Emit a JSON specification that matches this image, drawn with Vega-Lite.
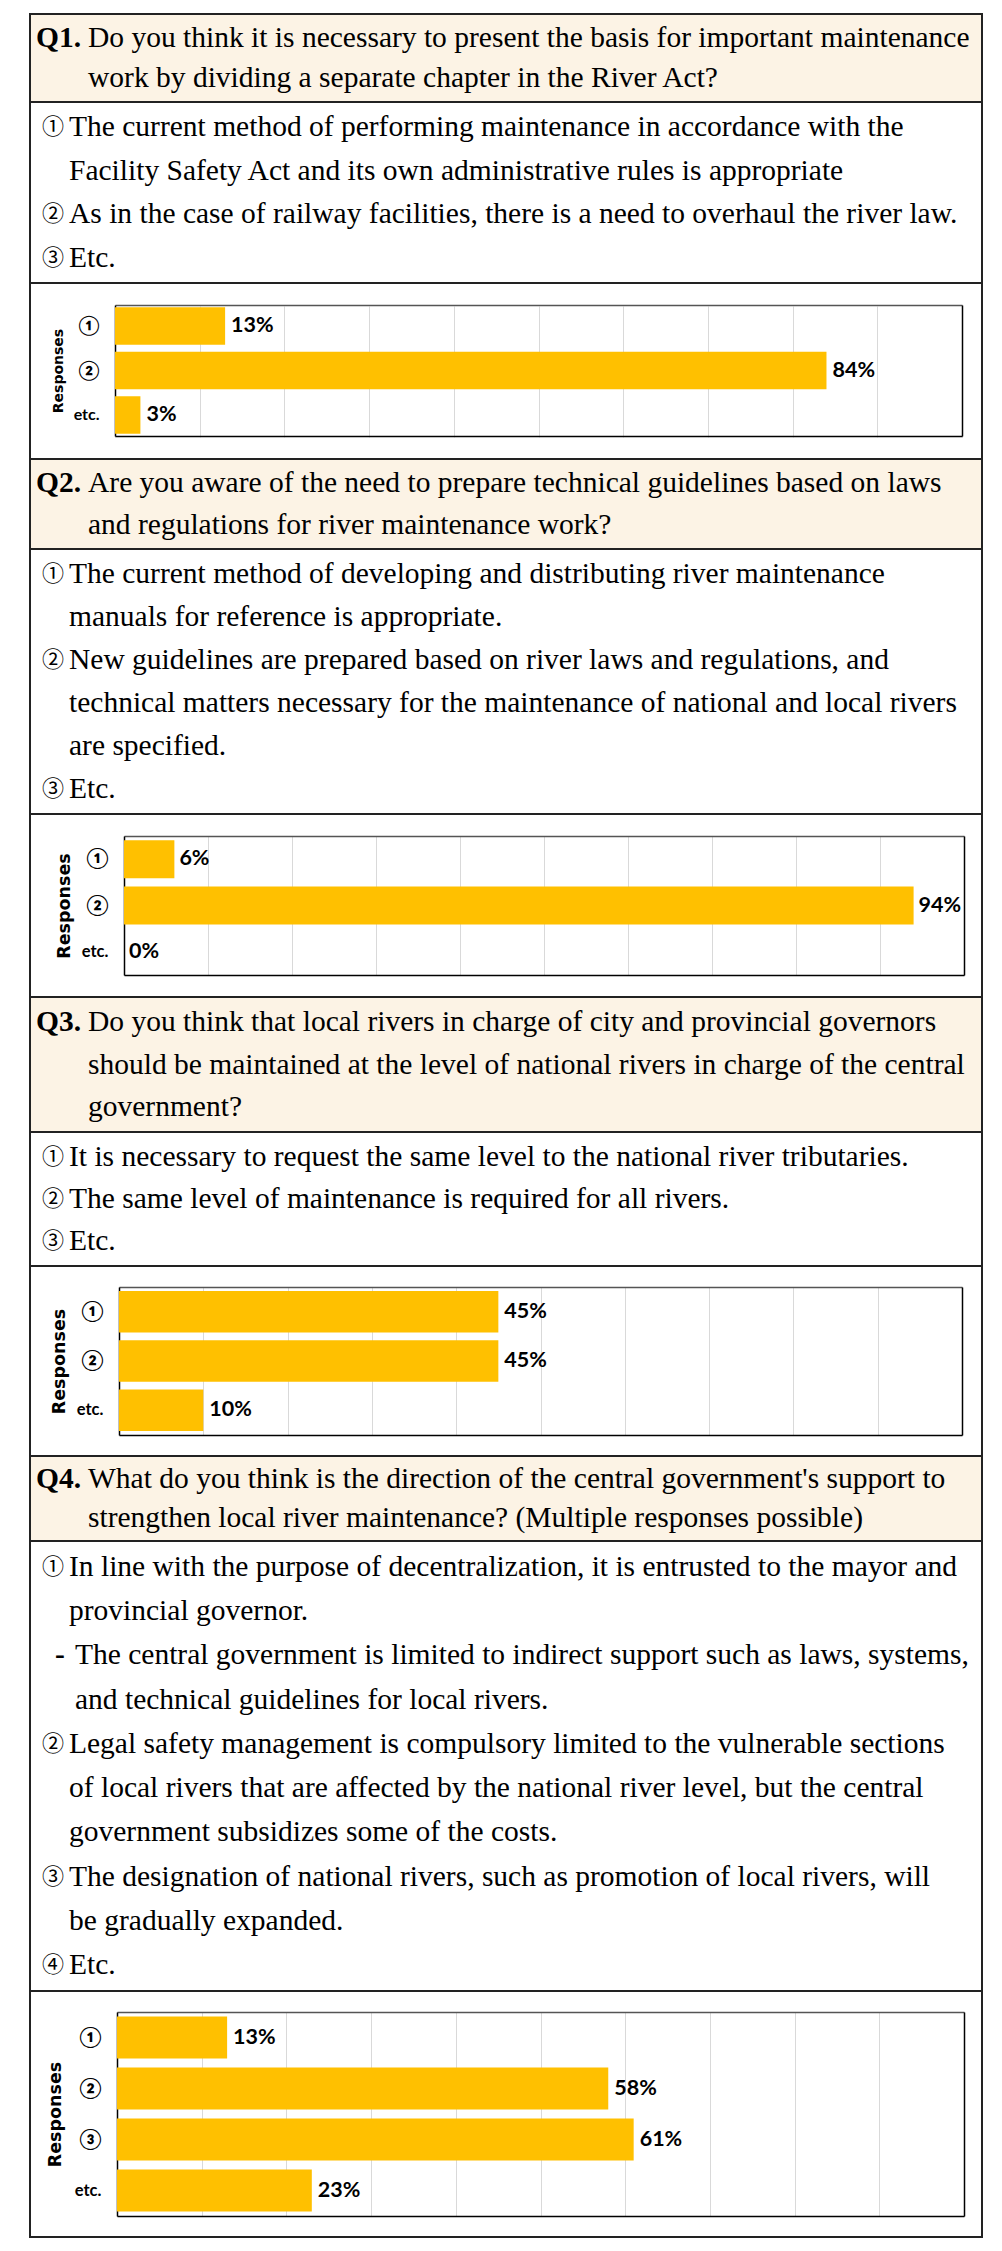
{
 "$schema": "https://vega.github.io/schema/vega-lite/v6.json",
 "padding": {"left": 29, "top": 13, "right": 21, "bottom": 15},
 "background": "#ffffff",
 "spacing": 0,
 "bounds": "flush",
 "config": {
  "view": {"stroke": "#222222", "strokeWidth": 2},
  "text": {"font": "Liberation Serif", "fontSize": 29.5, "align": "left", "baseline": "middle", "color": "#000000"}
 },
 "datasets": {
  "lines": [
   {"s": "Q1h", "l": 1, "m": "Q1.", "t": "Do you think it is necessary to present the basis for important maintenance"},
   {"s": "Q1h", "l": 2, "m": "", "t": "work by dividing a separate chapter in the River Act?"},
   {"s": "Q1o", "l": 1, "m": "①", "t": "The current method of performing maintenance in accordance with the"},
   {"s": "Q1o", "l": 2, "m": "", "t": "Facility Safety Act and its own administrative rules is appropriate"},
   {"s": "Q1o", "l": 3, "m": "②", "t": "As in the case of railway facilities, there is a need to overhaul the river law."},
   {"s": "Q1o", "l": 4, "m": "③", "t": "Etc."},
   {"s": "Q2h", "l": 1, "m": "Q2.", "t": "Are you aware of the need to prepare technical guidelines based on laws"},
   {"s": "Q2h", "l": 2, "m": "", "t": "and regulations for river maintenance work?"},
   {"s": "Q2o", "l": 1, "m": "①", "t": "The current method of developing and distributing river maintenance"},
   {"s": "Q2o", "l": 2, "m": "", "t": "manuals for reference is appropriate."},
   {"s": "Q2o", "l": 3, "m": "②", "t": "New guidelines are prepared based on river laws and regulations, and"},
   {"s": "Q2o", "l": 4, "m": "", "t": "technical matters necessary for the maintenance of national and local rivers"},
   {"s": "Q2o", "l": 5, "m": "", "t": "are specified."},
   {"s": "Q2o", "l": 6, "m": "③", "t": "Etc."},
   {"s": "Q3h", "l": 1, "m": "Q3.", "t": "Do you think that local rivers in charge of city and provincial governors"},
   {"s": "Q3h", "l": 2, "m": "", "t": "should be maintained at the level of national rivers in charge of the central"},
   {"s": "Q3h", "l": 3, "m": "", "t": "government?"},
   {"s": "Q3o", "l": 1, "m": "①", "t": "It is necessary to request the same level to the national river tributaries."},
   {"s": "Q3o", "l": 2, "m": "②", "t": "The same level of maintenance is required for all rivers."},
   {"s": "Q3o", "l": 3, "m": "③", "t": "Etc."},
   {"s": "Q4h", "l": 1, "m": "Q4.", "t": "What do you think is the direction of the central government's support to"},
   {"s": "Q4h", "l": 2, "m": "", "t": "strengthen local river maintenance? (Multiple responses possible)"},
   {"s": "Q4o", "l": 1, "m": "①", "t": "In line with the purpose of decentralization, it is entrusted to the mayor and", "sub": false},
   {"s": "Q4o", "l": 2, "m": "", "t": "provincial governor.", "sub": false},
   {"s": "Q4o", "l": 3, "m": "-", "t": "The central government is limited to indirect support such as laws, systems,", "sub": true},
   {"s": "Q4o", "l": 4, "m": "", "t": "and technical guidelines for local rivers.", "sub": true},
   {"s": "Q4o", "l": 5, "m": "②", "t": "Legal safety management is compulsory limited to the vulnerable sections", "sub": false},
   {"s": "Q4o", "l": 6, "m": "", "t": "of local rivers that are affected by the national river level, but the central", "sub": false},
   {"s": "Q4o", "l": 7, "m": "", "t": "government subsidizes some of the costs.", "sub": false},
   {"s": "Q4o", "l": 8, "m": "③", "t": "The designation of national rivers, such as promotion of local rivers, will", "sub": false},
   {"s": "Q4o", "l": 9, "m": "", "t": "be gradually expanded.", "sub": false},
   {"s": "Q4o", "l": 10, "m": "④", "t": "Etc.", "sub": false}
  ],
  "bars": [
   {"q": "Q1", "r": "①", "v": 0.13},
   {"q": "Q1", "r": "②", "v": 0.84},
   {"q": "Q1", "r": "etc.", "v": 0.03},
   {"q": "Q2", "r": "①", "v": 0.06},
   {"q": "Q2", "r": "②", "v": 0.94},
   {"q": "Q2", "r": "etc.", "v": 0.0},
   {"q": "Q3", "r": "①", "v": 0.45},
   {"q": "Q3", "r": "②", "v": 0.45},
   {"q": "Q3", "r": "etc.", "v": 0.10},
   {"q": "Q4", "r": "①", "v": 0.13},
   {"q": "Q4", "r": "②", "v": 0.58},
   {"q": "Q4", "r": "③", "v": 0.61},
   {"q": "Q4", "r": "etc.", "v": 0.23}
  ]
 },
 "vconcat": [
  {
   "width": 952, "height": 88,
   "view": {"fill": "#fcf3e5"},
   "data": {"name": "lines"},
   "transform": [{"filter": "datum.s == 'Q1h'"}],
   "encoding": {"y": {"field": "l", "type": "ordinal", "axis": null, "scale": {"type": "point", "padding": 0.58}}},
   "layer": [
    {"mark": {"type": "text", "fontWeight": "bold", "x": 6}, "encoding": {"text": {"field": "m"}}},
    {"mark": {"type": "text", "x": 58}, "encoding": {"text": {"field": "t"}}}
   ]
  },
  {
   "width": 952, "height": 181,
   "data": {"name": "lines"},
   "transform": [{"filter": "datum.s == 'Q1o'"}],
   "encoding": {"y": {"field": "l", "type": "ordinal", "axis": null, "scale": {"type": "point", "padding": 0.58}}},
   "layer": [
    {"mark": {"type": "text", "x": 12, "font": "Noto Sans CJK KR", "fontSize": 22}, "encoding": {"text": {"field": "m"}}},
    {"mark": {"type": "text", "x": 39}, "encoding": {"text": {"field": "t"}}}
   ]
  },
  {
   "width": 952, "height": 176,
   "data": {"name": "bars"},
   "transform": [{"filter": "datum.q == 'Q1'"}],
   "resolve": {"axis": {"x": "independent", "y": "independent"}},
   "layer": [
    {
     "mark": {"type": "bar", "color": "#ffc000"},
     "encoding": {
      "y": {"field": "r", "type": "nominal", "sort": null,
       "scale": {"range": [22, 153], "paddingInner": 0.16, "paddingOuter": 0.05},
       "axis": {"orient": "left", "offset": -85, "title": "Responses", "ticks": false, "labelPadding": 16, "labelAngle": 0,
        "labelFont": "Lato, Noto Sans CJK KR", "labelFontSize": {"condition": {"test": "datum.value == 'etc.'", "value": 16}, "value": 19}, "labelFontWeight": "bold", "labelColor": "#000000",
        "titleFont": "DejaVu Sans", "titleFontSize": 14, "titleFontWeight": "bold", "titleColor": "#000000", "titlePadding": 8,
        "domainColor": "#000000", "domainWidth": 1.5}},
      "x": {"field": "v", "type": "quantitative",
       "scale": {"domain": [0, 1], "range": [85, 932], "nice": false},
       "axis": {"orient": "bottom", "offset": -23, "title": null, "labels": false, "ticks": false, "grid": true,
        "gridColor": "#d9d9d9", "gridWidth": 1, "values": [0, 0.1, 0.2, 0.3, 0.4, 0.5, 0.6, 0.7, 0.8, 0.9, 1],
        "domainColor": "#000000", "domainWidth": 1.5}}
     }
    },
    {
     "mark": {"type": "text", "dx": 6, "font": "Lato", "fontWeight": "bold", "fontSize": 21.5},
     "encoding": {
      "y": {"field": "r", "type": "nominal", "sort": null, "axis": null},
      "x": {"field": "v", "type": "quantitative", "axis": null},
      "text": {"field": "v", "type": "quantitative", "format": ".0%"}
     }
    },
    {
     "mark": {"type": "bar", "opacity": 0},
     "encoding": {
      "y": {"field": "r", "type": "nominal", "sort": null,
       "axis": {"orient": "right", "offset": -20, "labels": false, "ticks": false, "title": null, "domainColor": "#000000", "domainWidth": 1.5}},
      "x": {"field": "v", "type": "quantitative",
       "axis": {"orient": "top", "offset": -22, "labels": false, "ticks": false, "title": null, "grid": false, "domainColor": "#555555", "domainWidth": 1.5}}
     }
    }
   ]
  },
  {
   "width": 952, "height": 90,
   "view": {"fill": "#fcf3e5"},
   "data": {"name": "lines"},
   "transform": [{"filter": "datum.s == 'Q2h'"}],
   "encoding": {"y": {"field": "l", "type": "ordinal", "axis": null, "scale": {"type": "point", "padding": 0.58}}},
   "layer": [
    {"mark": {"type": "text", "fontWeight": "bold", "x": 6}, "encoding": {"text": {"field": "m"}}},
    {"mark": {"type": "text", "x": 58}, "encoding": {"text": {"field": "t"}}}
   ]
  },
  {
   "width": 952, "height": 265,
   "data": {"name": "lines"},
   "transform": [{"filter": "datum.s == 'Q2o'"}],
   "encoding": {"y": {"field": "l", "type": "ordinal", "axis": null, "scale": {"type": "point", "padding": 0.58}}},
   "layer": [
    {"mark": {"type": "text", "x": 12, "font": "Noto Sans CJK KR", "fontSize": 22}, "encoding": {"text": {"field": "m"}}},
    {"mark": {"type": "text", "x": 39}, "encoding": {"text": {"field": "t"}}}
   ]
  },
  {
   "width": 952, "height": 183,
   "data": {"name": "bars"},
   "transform": [{"filter": "datum.q == 'Q2'"}],
   "resolve": {"axis": {"x": "independent", "y": "independent"}},
   "layer": [
    {
     "mark": {"type": "bar", "color": "#ffc000"},
     "encoding": {
      "y": {"field": "r", "type": "nominal", "sort": null,
       "scale": {"range": [22, 161], "paddingInner": 0.18, "paddingOuter": 0.09},
       "axis": {"orient": "left", "offset": -94, "title": "Responses", "ticks": false, "labelPadding": 16, "labelAngle": 0,
        "labelFont": "Lato, Noto Sans CJK KR", "labelFontSize": {"condition": {"test": "datum.value == 'etc.'", "value": 16.5}, "value": 20}, "labelFontWeight": "bold", "labelColor": "#000000",
        "titleFont": "DejaVu Sans", "titleFontSize": 17.5, "titleFontWeight": "bold", "titleColor": "#000000", "titlePadding": 8,
        "domainColor": "#000000", "domainWidth": 1.5}},
      "x": {"field": "v", "type": "quantitative",
       "scale": {"domain": [0, 1], "range": [94, 934], "nice": false},
       "axis": {"orient": "bottom", "offset": -22, "title": null, "labels": false, "ticks": false, "grid": true,
        "gridColor": "#d9d9d9", "gridWidth": 1, "values": [0, 0.1, 0.2, 0.3, 0.4, 0.5, 0.6, 0.7, 0.8, 0.9, 1],
        "domainColor": "#000000", "domainWidth": 1.5}}
     }
    },
    {
     "mark": {"type": "text", "dx": 5, "font": "Lato", "fontWeight": "bold", "fontSize": 21.5},
     "encoding": {
      "y": {"field": "r", "type": "nominal", "sort": null, "axis": null},
      "x": {"field": "v", "type": "quantitative", "axis": null},
      "text": {"field": "v", "type": "quantitative", "format": ".0%"}
     }
    },
    {
     "mark": {"type": "bar", "opacity": 0},
     "encoding": {
      "y": {"field": "r", "type": "nominal", "sort": null,
       "axis": {"orient": "right", "offset": -18, "labels": false, "ticks": false, "title": null, "domainColor": "#000000", "domainWidth": 1.5}},
      "x": {"field": "v", "type": "quantitative",
       "axis": {"orient": "top", "offset": -22, "labels": false, "ticks": false, "title": null, "grid": false, "domainColor": "#555555", "domainWidth": 1.5}}
     }
    }
   ]
  },
  {
   "width": 952, "height": 135,
   "view": {"fill": "#fcf3e5"},
   "data": {"name": "lines"},
   "transform": [{"filter": "datum.s == 'Q3h'"}],
   "encoding": {"y": {"field": "l", "type": "ordinal", "axis": null, "scale": {"type": "point", "padding": 0.58}}},
   "layer": [
    {"mark": {"type": "text", "fontWeight": "bold", "x": 6}, "encoding": {"text": {"field": "m"}}},
    {"mark": {"type": "text", "x": 58}, "encoding": {"text": {"field": "t"}}}
   ]
  },
  {
   "width": 952, "height": 134,
   "data": {"name": "lines"},
   "transform": [{"filter": "datum.s == 'Q3o'"}],
   "encoding": {"y": {"field": "l", "type": "ordinal", "axis": null, "scale": {"type": "point", "padding": 0.58}}},
   "layer": [
    {"mark": {"type": "text", "x": 12, "font": "Noto Sans CJK KR", "fontSize": 22}, "encoding": {"text": {"field": "m"}}},
    {"mark": {"type": "text", "x": 39}, "encoding": {"text": {"field": "t"}}}
   ]
  },
  {
   "width": 952, "height": 190,
   "data": {"name": "bars"},
   "transform": [{"filter": "datum.q == 'Q3'"}],
   "resolve": {"axis": {"x": "independent", "y": "independent"}},
   "layer": [
    {
     "mark": {"type": "bar", "color": "#ffc000"},
     "encoding": {
      "y": {"field": "r", "type": "nominal", "sort": null,
       "scale": {"range": [21, 169], "paddingInner": 0.16, "paddingOuter": 0.08},
       "axis": {"orient": "left", "offset": -89, "title": "Responses", "ticks": false, "labelPadding": 16, "labelAngle": 0,
        "labelFont": "Lato, Noto Sans CJK KR", "labelFontSize": {"condition": {"test": "datum.value == 'etc.'", "value": 16.5}, "value": 20}, "labelFontWeight": "bold", "labelColor": "#000000",
        "titleFont": "DejaVu Sans", "titleFontSize": 17.5, "titleFontWeight": "bold", "titleColor": "#000000", "titlePadding": 8,
        "domainColor": "#000000", "domainWidth": 1.5}},
      "x": {"field": "v", "type": "quantitative",
       "scale": {"domain": [0, 1], "range": [89, 932], "nice": false},
       "axis": {"orient": "bottom", "offset": -21, "title": null, "labels": false, "ticks": false, "grid": true,
        "gridColor": "#d9d9d9", "gridWidth": 1, "values": [0, 0.1, 0.2, 0.3, 0.4, 0.5, 0.6, 0.7, 0.8, 0.9, 1],
        "domainColor": "#000000", "domainWidth": 1.5}}
     }
    },
    {
     "mark": {"type": "text", "dx": 6, "font": "Lato", "fontWeight": "bold", "fontSize": 21.5},
     "encoding": {
      "y": {"field": "r", "type": "nominal", "sort": null, "axis": null},
      "x": {"field": "v", "type": "quantitative", "axis": null},
      "text": {"field": "v", "type": "quantitative", "format": ".0%"}
     }
    },
    {
     "mark": {"type": "bar", "opacity": 0},
     "encoding": {
      "y": {"field": "r", "type": "nominal", "sort": null,
       "axis": {"orient": "right", "offset": -20, "labels": false, "ticks": false, "title": null, "domainColor": "#000000", "domainWidth": 1.5}},
      "x": {"field": "v", "type": "quantitative",
       "axis": {"orient": "top", "offset": -21, "labels": false, "ticks": false, "title": null, "grid": false, "domainColor": "#555555", "domainWidth": 1.5}}
     }
    }
   ]
  },
  {
   "width": 952, "height": 85,
   "view": {"fill": "#fcf3e5"},
   "data": {"name": "lines"},
   "transform": [{"filter": "datum.s == 'Q4h'"}],
   "encoding": {"y": {"field": "l", "type": "ordinal", "axis": null, "scale": {"type": "point", "padding": 0.58}}},
   "layer": [
    {"mark": {"type": "text", "fontWeight": "bold", "x": 6}, "encoding": {"text": {"field": "m"}}},
    {"mark": {"type": "text", "x": 58}, "encoding": {"text": {"field": "t"}}}
   ]
  },
  {
   "width": 952, "height": 450,
   "data": {"name": "lines"},
   "transform": [{"filter": "datum.s == 'Q4o'"}],
   "encoding": {"y": {"field": "l", "type": "ordinal", "axis": null, "scale": {"type": "point", "padding": 0.58}}},
   "layer": [
    {"transform": [{"filter": "!datum.sub"}], "mark": {"type": "text", "x": 12, "font": "Noto Sans CJK KR", "fontSize": 22}, "encoding": {"text": {"field": "m"}}},
    {"transform": [{"filter": "!datum.sub"}], "mark": {"type": "text", "x": 39}, "encoding": {"text": {"field": "t"}}},
    {"transform": [{"filter": "datum.sub"}], "mark": {"type": "text", "x": 25, "fontWeight": "bold"}, "encoding": {"text": {"field": "m"}}},
    {"transform": [{"filter": "datum.sub"}], "mark": {"type": "text", "x": 45}, "encoding": {"text": {"field": "t"}}}
   ]
  },
  {
   "width": 952, "height": 246,
   "data": {"name": "bars"},
   "transform": [{"filter": "datum.q == 'Q4'"}],
   "resolve": {"axis": {"x": "independent", "y": "independent"}},
   "layer": [
    {
     "mark": {"type": "bar", "color": "#ffc000"},
     "encoding": {
      "y": {"field": "r", "type": "nominal", "sort": null,
       "scale": {"range": [21, 225], "paddingInner": 0.18, "paddingOuter": 0.09},
       "axis": {"orient": "left", "offset": -87, "title": "Responses", "ticks": false, "labelPadding": 16, "labelAngle": 0,
        "labelFont": "Lato, Noto Sans CJK KR", "labelFontSize": {"condition": {"test": "datum.value == 'etc.'", "value": 16.5}, "value": 20}, "labelFontWeight": "bold", "labelColor": "#000000",
        "titleFont": "DejaVu Sans", "titleFontSize": 17.5, "titleFontWeight": "bold", "titleColor": "#000000", "titlePadding": 10,
        "domainColor": "#000000", "domainWidth": 1.5}},
      "x": {"field": "v", "type": "quantitative",
       "scale": {"domain": [0, 1], "range": [87, 934], "nice": false},
       "axis": {"orient": "bottom", "offset": -21, "title": null, "labels": false, "ticks": false, "grid": true,
        "gridColor": "#d9d9d9", "gridWidth": 1, "values": [0, 0.1, 0.2, 0.3, 0.4, 0.5, 0.6, 0.7, 0.8, 0.9, 1],
        "domainColor": "#000000", "domainWidth": 1.5}}
     }
    },
    {
     "mark": {"type": "text", "dx": 6, "font": "Lato", "fontWeight": "bold", "fontSize": 21.5},
     "encoding": {
      "y": {"field": "r", "type": "nominal", "sort": null, "axis": null},
      "x": {"field": "v", "type": "quantitative", "axis": null},
      "text": {"field": "v", "type": "quantitative", "format": ".0%"}
     }
    },
    {
     "mark": {"type": "bar", "opacity": 0},
     "encoding": {
      "y": {"field": "r", "type": "nominal", "sort": null,
       "axis": {"orient": "right", "offset": -18, "labels": false, "ticks": false, "title": null, "domainColor": "#000000", "domainWidth": 1.5}},
      "x": {"field": "v", "type": "quantitative",
       "axis": {"orient": "top", "offset": -21, "labels": false, "ticks": false, "title": null, "grid": false, "domainColor": "#555555", "domainWidth": 1.5}}
     }
    }
   ]
  }
 ]
}
